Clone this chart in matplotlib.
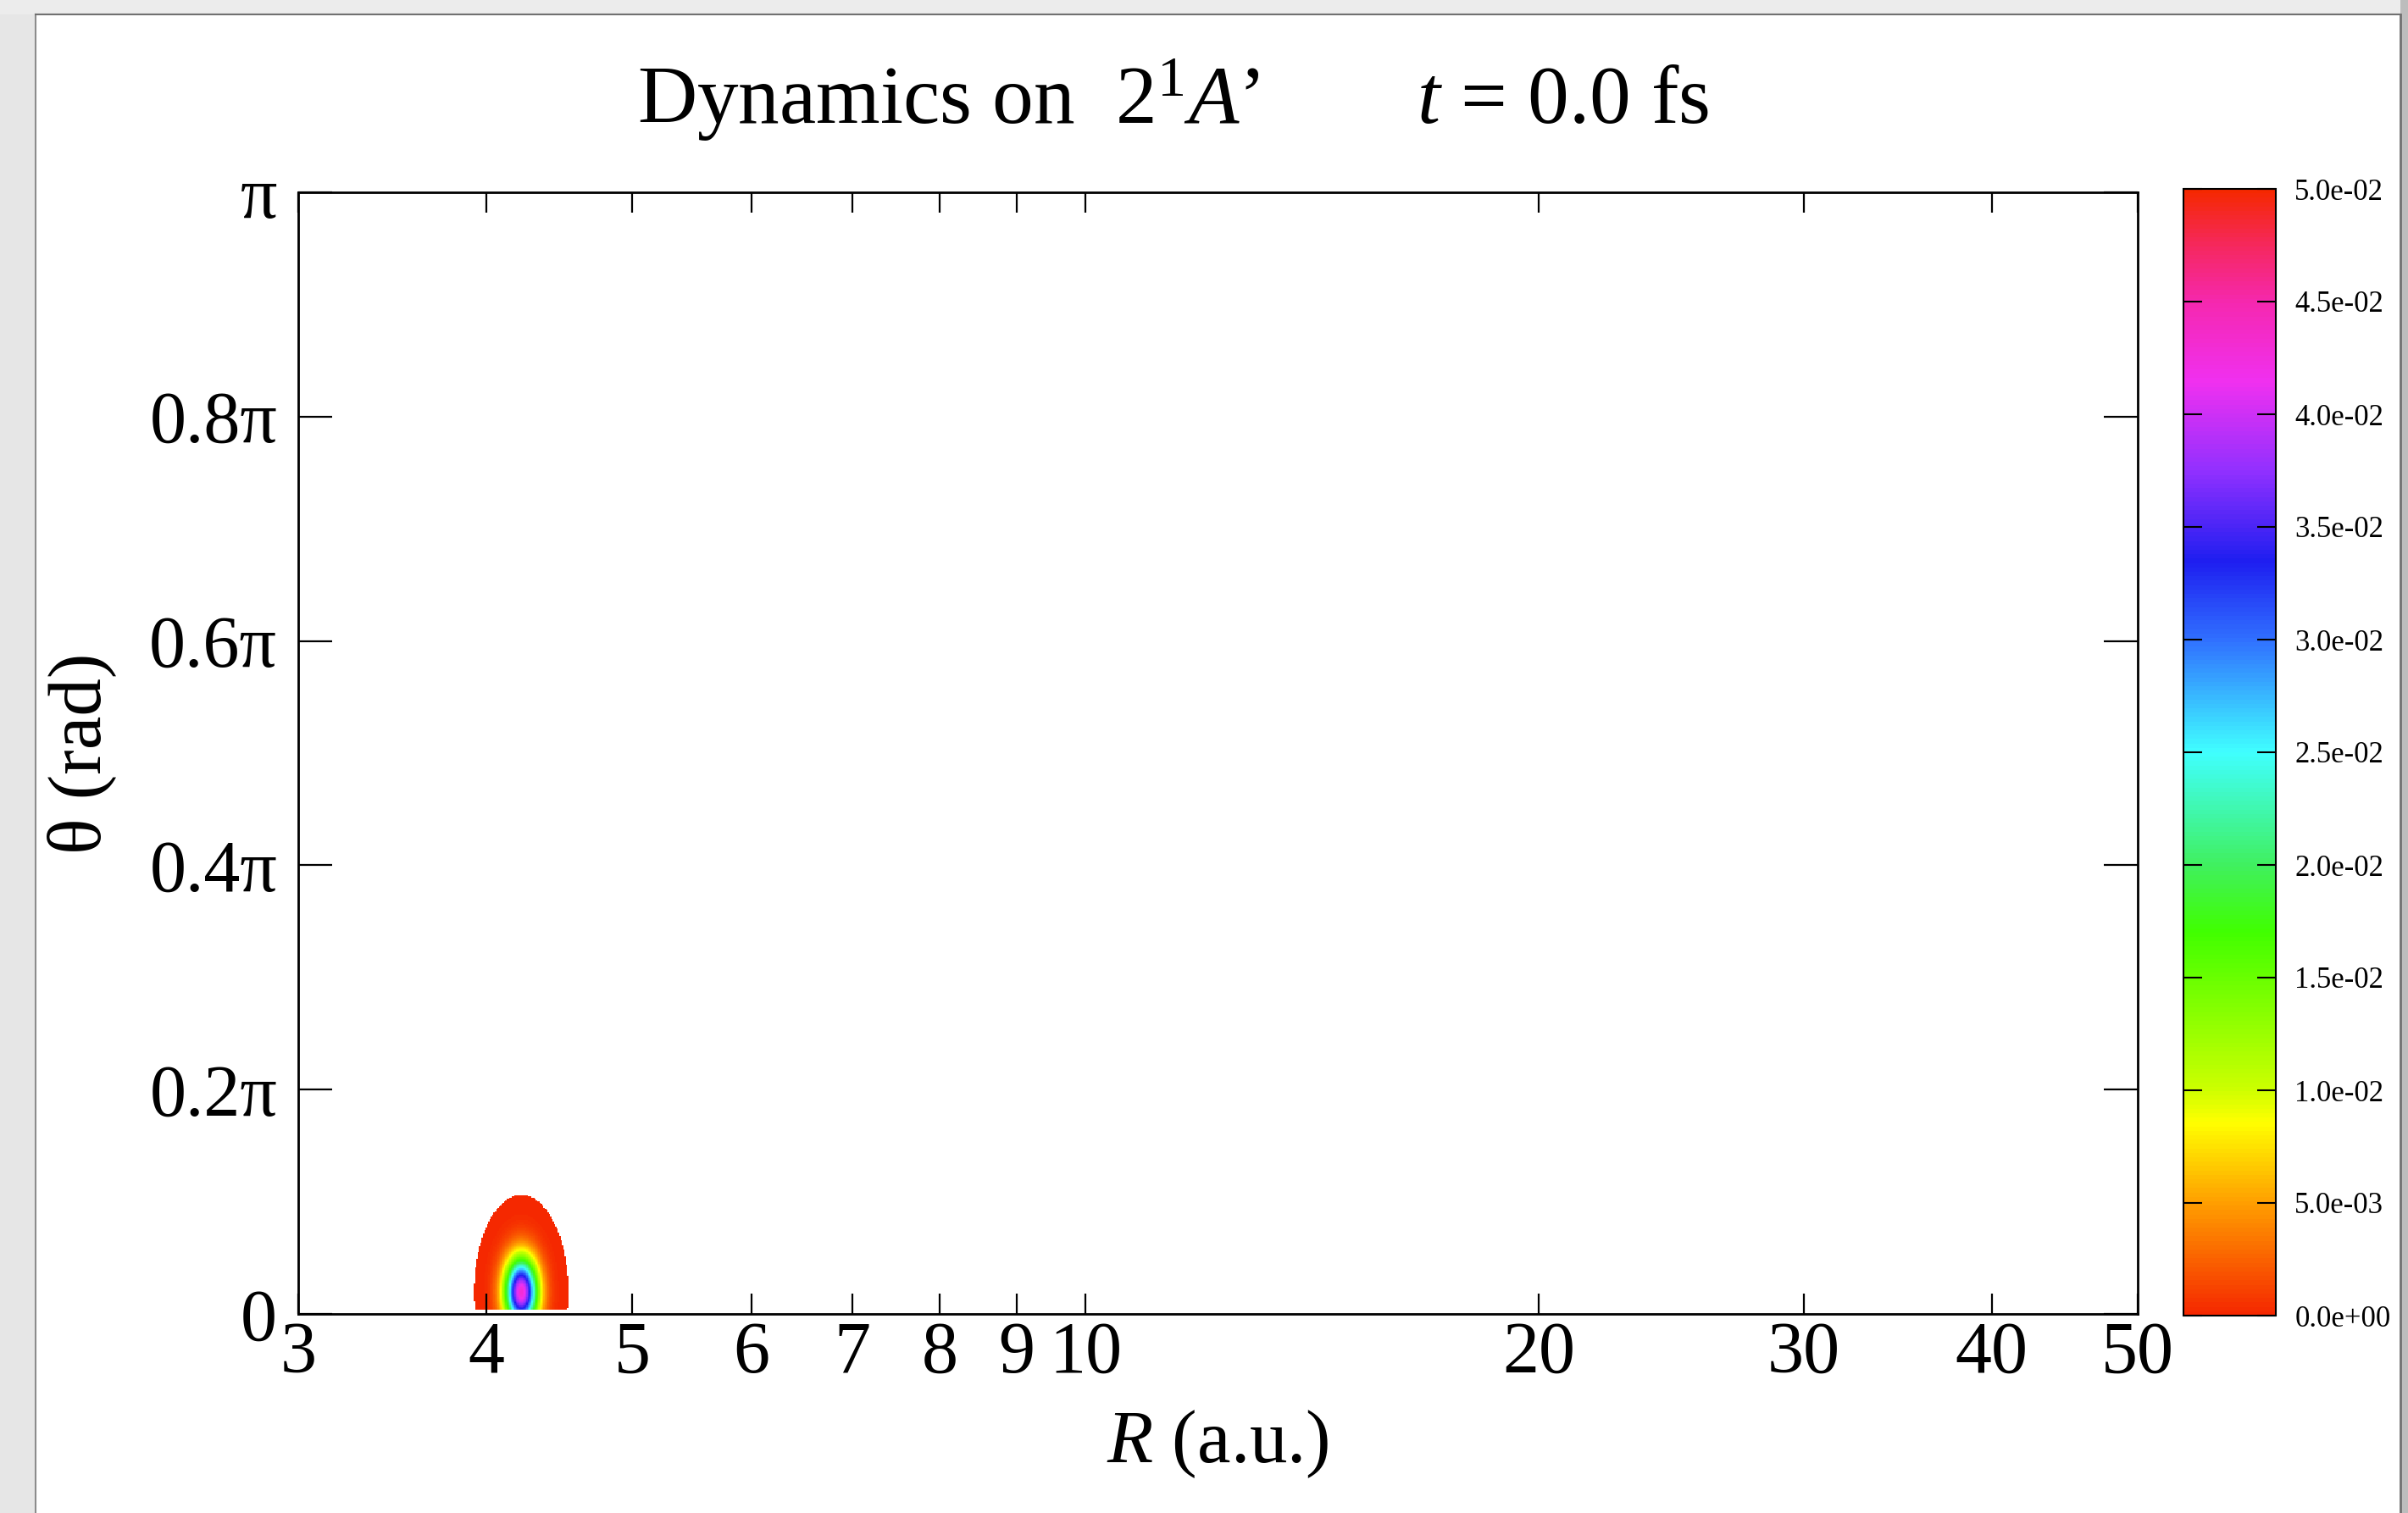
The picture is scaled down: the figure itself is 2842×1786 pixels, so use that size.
import numpy as np
import matplotlib
matplotlib.use("Agg")
import matplotlib.pyplot as plt
from matplotlib.colors import LinearSegmentedColormap
from matplotlib.patches import Rectangle

plt.rcParams['font.family'] = ['Liberation Serif', 'DejaVu Serif']
plt.rcParams['mathtext.fontset'] = 'custom'
plt.rcParams['mathtext.rm'] = 'Liberation Serif'
plt.rcParams['mathtext.it'] = 'Liberation Serif:italic'

# wavepacket at t = 0
R0 = 4.22             # a.u.
THETA0 = 0.0196 * np.pi
SIGMA_LNR = 0.0175    # width in ln R
SIGMA_THETA = 0.021 * np.pi
PEAK = 0.043
CUTOFF = 9e-6         # densities below this are not drawn
THETA_START = 0.0045 * np.pi

x_ticks = [3, 4, 5, 6, 7, 8, 9, 10, 20, 30, 40, 50]
y_ticks = [0, 0.2, 0.4, 0.6, 0.8, 1.0]
y_labels = ['0', '0.2π', '0.4π', '0.6π', '0.8π', 'π']
cb_ticks = [0.0, 0.005, 0.01, 0.015, 0.02, 0.025, 0.03, 0.035, 0.04, 0.045, 0.05]

cmap_stops = [
    (0.00, '#f52800'), (0.10, '#ffa000'), (0.17, '#ffff00'), (0.20, '#ccff00'),
    (0.34, '#40ff00'), (0.40, '#40f060'), (0.50, '#40ffff'), (0.60, '#3070ff'),
    (0.67, '#1e1ef0'), (0.75, '#9030ff'), (0.83, '#f030f0'), (0.90, '#f528b0'),
    (0.95, '#f52860'), (1.00, '#f52800'),
]
cmap = LinearSegmentedColormap.from_list('wp', cmap_stops)

# grid
R = np.geomspace(3.0, 50.0, 1400)
TH = np.linspace(THETA_START, np.pi, 900)
RR, TT = np.meshgrid(R, TH)
rho = PEAK * np.exp(-0.5 * (np.log(RR / R0) / SIGMA_LNR) ** 2
                    - 0.5 * ((TT - THETA0) / SIGMA_THETA) ** 2)
rho = np.ma.masked_less(rho, CUTOFF)

fig = plt.figure(figsize=(28.42, 17.86), dpi=100)

# window frame
fig.patches.append(Rectangle((0, 0), 42 / 2842, 1, transform=fig.transFigure,
                             facecolor='#e6e6e6', edgecolor='none', zorder=0))
fig.patches.append(Rectangle((0, 1 - 17 / 1786), 1, 17 / 1786, transform=fig.transFigure,
                             facecolor='#ececec', edgecolor='none', zorder=0))
fig.patches.append(Rectangle((2833 / 2842, 0), 9 / 2842, 1, transform=fig.transFigure,
                             facecolor='#bdbdbd', edgecolor='none', zorder=0))
fig.add_artist(plt.Line2D([42 / 2842, 42 / 2842], [0, 1 - 17 / 1786], color='#8c8c8c', lw=1.5))
fig.add_artist(plt.Line2D([42 / 2842, 2833 / 2842], [1 - 17 / 1786, 1 - 17 / 1786], color='#707070', lw=1.5))
fig.add_artist(plt.Line2D([2833 / 2842, 2833 / 2842], [0, 1 - 17 / 1786], color='#707070', lw=2))

ax = fig.add_axes([352 / 2842, 235 / 1786, 2171 / 2842, 1324 / 1786])
mesh = ax.pcolormesh(R, TH, rho, cmap=cmap, vmin=0, vmax=0.05, shading='auto')

ax.set_xscale('log')
ax.set_xlim(3, 50)
ax.set_ylim(0, np.pi)
ax.set_xticks(x_ticks)
ax.set_xticklabels([str(v) for v in x_ticks])
ax.xaxis.set_minor_locator(matplotlib.ticker.NullLocator())
ax.set_yticks([v * np.pi for v in y_ticks])
ax.set_yticklabels(y_labels)

ax.tick_params(axis='both', which='major', direction='in', labelsize=62,
               top=True, right=True, width=1.6, color='black')
ax.tick_params(axis='x', length=17, pad=6)
ax.tick_params(axis='y', length=29, pad=18)
for s in ax.spines.values():
    s.set_linewidth(2.0)

ax.set_xlabel(r'$R$ (a.u.)', fontsize=64)
ax.set_ylabel('θ (rad)', fontsize=64)
ax.xaxis.set_label_coords(0.5, -0.084)
ax.yaxis.set_label_coords(-0.099, 0.5)

fig.text(752 / 2842, 1 - 145 / 1786, r"Dynamics on  $2^{1}\mathit{A}$’",
         fontsize=70, ha='left', va='baseline')
fig.text(2017 / 2842, 1 - 145 / 1786, r"$t$ = 0.0 fs",
         fontsize=70, ha='right', va='baseline')

cax = fig.add_axes([2577 / 2842, 233 / 1786, 109 / 2842, 1330 / 1786])
cb = fig.colorbar(mesh, cax=cax, ticks=cb_ticks)
cb.ax.set_yticklabels(['%.1e' % v for v in cb_ticks])
cb.ax.tick_params(direction='in', left=True, right=True, length=16, width=1.5,
                  labelsize=25, pad=16)
cb.outline.set_linewidth(1.5)

fig.savefig('out.png', dpi=100, facecolor='white')
